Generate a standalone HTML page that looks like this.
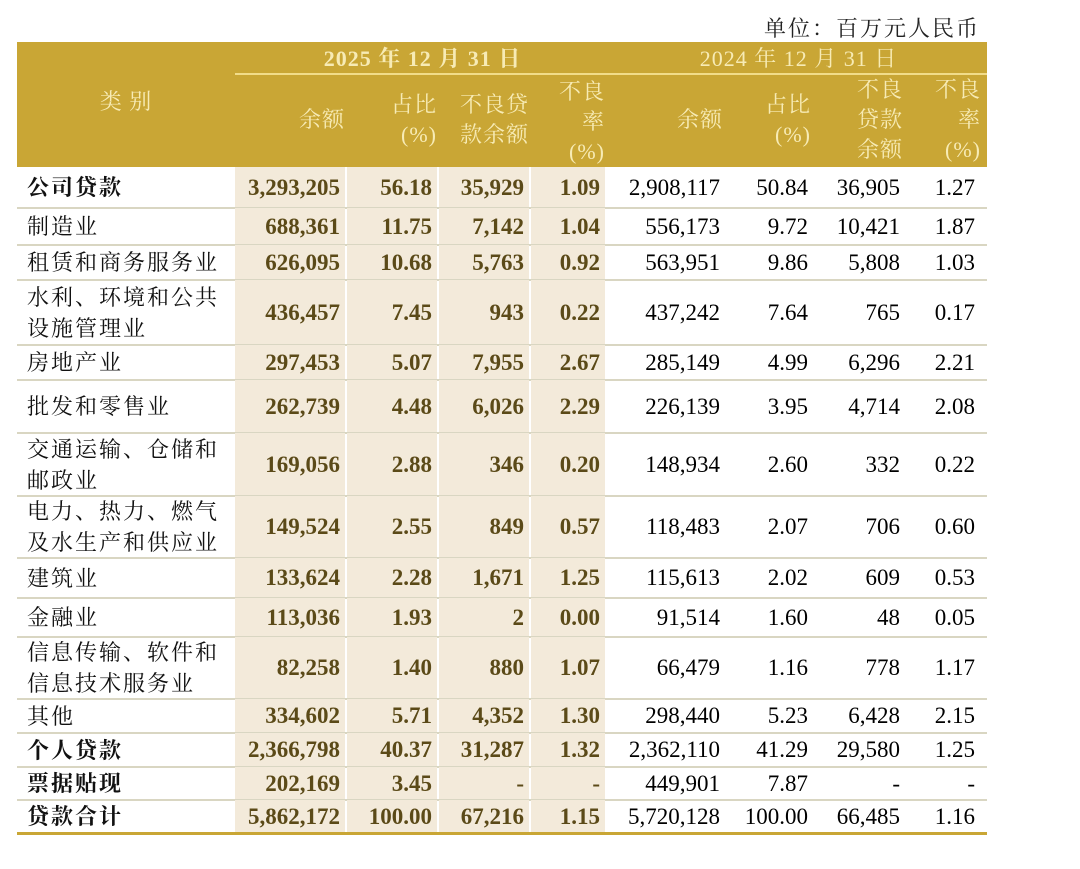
<!DOCTYPE html>
<html><head><meta charset="utf-8">
<style>
html,body{margin:0;padding:0;background:#fff;width:1080px;height:869px;overflow:hidden}
body{position:relative;font-family:"Liberation Serif","Noto Serif CJK SC",serif}
#unit{position:absolute;right:100px;top:12px;font-size:22px;color:#222;font-family:"Liberation Serif","Noto Serif CJK SC",serif;letter-spacing:2px}
#hdr{position:absolute;left:17px;top:42px;width:970px;height:125px;background:#C9A635}
.h{position:absolute;color:#F7EBB5;font-size:22px;line-height:30px;text-align:right;letter-spacing:1px;font-family:"Liberation Serif","Noto Serif CJK SC",serif}
#tbl{position:absolute;left:17px;top:167px;width:970px}
.cell{position:absolute;font-size:23px;text-align:right;box-sizing:border-box;padding-right:5px;display:flex;align-items:center;justify-content:flex-end}
.cat{position:absolute;font-size:22px;padding-left:10px;display:flex;align-items:center;line-height:31px;letter-spacing:2px;color:#111;font-family:"Liberation Serif","Noto Serif CJK SC",serif}
.b25{background:#F3EADA;color:#5B4A18;font-weight:bold}
.sep{position:absolute;height:2px;background:#D9D6C2}
</style></head><body>
<div id="unit">单位：百万元人民币</div>
<div id="hdr">
  <div class="h" style="left:0;width:218px;top:45px;text-align:center">类 别</div>
  <div class="h" style="left:218px;width:375px;top:2px;text-align:center;font-weight:bold">2025 年 12 月 31 日</div>
  <div class="h" style="left:593px;width:377px;top:2px;text-align:center">2024 年 12 月 31 日</div>
  <div style="position:absolute;left:218px;top:31px;width:752px;height:2px;background:#F1DC8A"></div>
  <div class="h" style="left:218px;width:110px;top:63px">余额</div>
  <div class="h" style="left:328px;width:92px;top:48px">占比<br>(%)</div>
  <div class="h" style="left:420px;width:92px;top:48px">不良贷<br>款余额</div>
  <div class="h" style="left:512px;width:76px;top:35px">不良<br>率<br>(%)</div>
  <div class="h" style="left:593px;width:113px;top:63px">余额</div>
  <div class="h" style="left:706px;width:88px;top:48px">占比<br>(%)</div>
  <div class="h" style="left:794px;width:92px;top:33px">不良<br>贷款<br>余额</div>
  <div class="h" style="left:886px;width:78px;top:33px">不良<br>率<br>(%)</div>
</div>
<div id="tbl"></div>
<div style="position:absolute;left:17px;top:832px;width:970px;height:3px;background:#C9A635"></div>
<script>
const categories=["公司贷款","制造业","租赁和商务服务业","水利、环境和公共<br>设施管理业","房地产业","批发和零售业","交通运输、仓储和<br>邮政业","电力、热力、燃气<br>及水生产和供应业","建筑业","金融业","信息传输、软件和<br>信息技术服务业","其他","个人贷款","票据贴现","贷款合计"];
const boldRows=[0,12,13,14];
const bal2025=["3,293,205","688,361","626,095","436,457","297,453","262,739","169,056","149,524","133,624","113,036","82,258","334,602","2,366,798","202,169","5,862,172"];
const share2025=["56.18","11.75","10.68","7.45","5.07","4.48","2.88","2.55","2.28","1.93","1.40","5.71","40.37","3.45","100.00"];
const npl2025=["35,929","7,142","5,763","943","7,955","6,026","346","849","1,671","2","880","4,352","31,287","-","67,216"];
const ratio2025=["1.09","1.04","0.92","0.22","2.67","2.29","0.20","0.57","1.25","0.00","1.07","1.30","1.32","-","1.15"];
const bal2024=["2,908,117","556,173","563,951","437,242","285,149","226,139","148,934","118,483","115,613","91,514","66,479","298,440","2,362,110","449,901","5,720,128"];
const share2024=["50.84","9.72","9.86","7.64","4.99","3.95","2.60","2.07","2.02","1.60","1.16","5.23","41.29","7.87","100.00"];
const npl2024=["36,905","10,421","5,808","765","6,296","4,714","332","706","609","48","778","6,428","29,580","-","66,485"];
const ratio2024=["1.27","1.87","1.03","0.17","2.21","2.08","0.22","0.60","0.53","0.05","1.17","2.15","1.25","-","1.16"];
const rowH=[41,37,35,65,35,53,63,62,40,39,62,34,34,33,33];
const cols=[[218,110],[328,92],[420,92],[512,76],[593,113],[706,88],[794,92],[886,84]];
const names=["balance-2025","share-2025","npl-2025","nplratio-2025","balance-2024","share-2024","npl-2024","nplratio-2024"];
const tbl=document.getElementById('tbl');
let y=0;
categories.forEach((c,i)=>{
  const h=rowH[i];
  const cat=document.createElement('div');
  cat.className='cat';
  
  
  cat.style.cssText=`left:0;top:${y}px;width:218px;height:${h}px;${boldRows.includes(i)?'font-weight:bold':''}`;
  cat.innerHTML=c;tbl.appendChild(cat);
  const vals=[bal2025[i],share2025[i],npl2025[i],ratio2025[i],bal2024[i],share2024[i],npl2024[i],ratio2024[i]];
  vals.forEach((v,j)=>{
    const d=document.createElement('div');
    d.className='cell'+(j<4?' b25':'');
    
    
    d.style.cssText=`left:${cols[j][0]+(j<4&&j>0?2:0)}px;top:${y}px;width:${cols[j][1]-(j<4&&j>0?2:0)}px;height:${h}px;${j===7?'padding-right:12px;':''}${j>=4&&j<7?'padding-right:3px;':''}`;
    d.textContent=v;tbl.appendChild(d);
  });
  y+=h;
  if(i<categories.length-1){
    const s=document.createElement('div');
    s.className='sep';
    
    
    s.style.cssText=`left:0;top:${y-1}px;width:970px`;
    tbl.appendChild(s);
  }
});
</script>
</body></html>
